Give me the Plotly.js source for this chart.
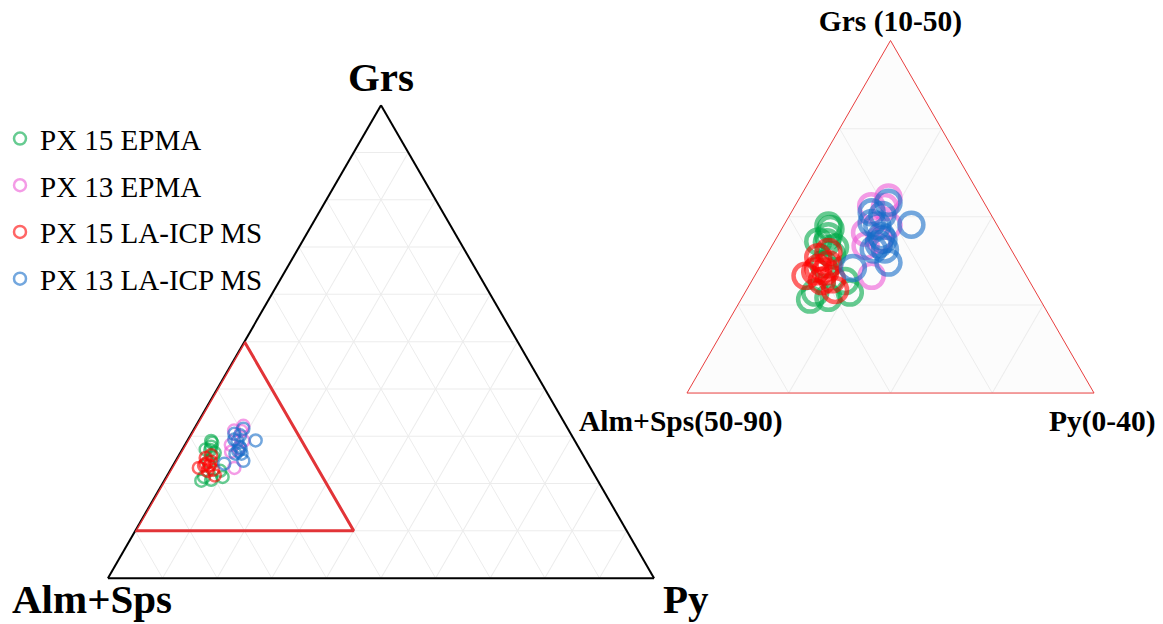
<!DOCTYPE html>
<html>
<head>
<meta charset="utf-8">
<script src="https://cdn.plot.ly/plotly-3.0.1.min.js"></script>
<style>
  html, body { margin: 0; padding: 0; background: #ffffff; }
  #chart { width: 1163px; height: 624px; }
</style>
</head>
<body>
<div id="chart"></div>
<script>
// Garnet end-member proportions (mol %): Grs, Alm+Sps, Py
const seriesNames = ['PX 15 EPMA', 'PX 13 EPMA', 'PX 15 LA-ICP MS', 'PX 13 LA-ICP MS'];

const grsPx15Epma = [28.6, 27.8, 27.1, 27.2, 26.5, 20.6, 20.8, 21.4, 22.7, 21.4, 24.6, 25.7, 29.0];
const almPx15Epma = [66.6, 67.2, 67.7, 68.5, 67.2, 72.6, 70.7, 68.3, 68.1, 71.7, 69.3, 67.9, 66.6];
const pyPx15Epma  = [4.8, 5.0, 5.2, 4.3, 6.3, 6.8, 8.5, 10.3, 9.2, 6.9, 6.1, 6.4, 4.4];

const grsPx13Epma = [32.2, 31.2, 28.2, 29.0, 23.3, 26.7, 27.4, 31.1];
const almPx13Epma = [59.1, 61.3, 63.4, 60.7, 65.2, 64.1, 62.4, 60.0];
const pyPx13Epma  = [8.7, 7.5, 8.4, 10.3, 11.5, 9.2, 10.2, 8.9];

const grsPx15La = [25.4, 26.0, 23.3, 23.8, 23.8, 22.9, 21.7, 22.7, 24.6, 24.2];
const almPx15La = [69.4, 68.1, 71.7, 70.5, 69.5, 69.3, 69.6, 70.4, 68.8, 70.0];
const pyPx15La  = [5.2, 5.9, 5.0, 5.7, 6.7, 7.8, 8.7, 6.9, 6.6, 5.8];

const grsPx13La = [31.6, 30.5, 29.1, 29.0, 27.8, 26.9, 26.3, 24.8, 24.2, 29.3, 27.4, 26.3, 30.2];
const almPx13La = [59.4, 61.6, 58.4, 61.8, 62.0, 62.7, 62.4, 62.8, 66.6, 62.2, 62.0, 63.5, 60.7];
const pyPx13La  = [9.0, 7.9, 12.5, 9.2, 10.2, 10.4, 11.3, 12.4, 9.2, 8.5, 10.6, 10.2, 9.1];

// Outline of the enlarged window: Grs 10-50, Alm+Sps 50-90, Py 0-40
const zoomGrs = [50, 10, 10, 50];
const zoomAlm = [50, 90, 50, 50];
const zoomPy  = [0, 0, 40, 0];

const seriesColors = ['rgb(0,168,72)', 'rgb(236,90,214)', 'rgb(255,0,0)', 'rgb(22,108,200)'];

const seriesData = [
  [grsPx15Epma, almPx15Epma, pyPx15Epma],
  [grsPx13Epma, almPx13Epma, pyPx13Epma],
  [grsPx15La, almPx15La, pyPx15La],
  [grsPx13La, almPx13La, pyPx13La]
];

const SERIF = 'Liberation Serif, Times New Roman, serif';
const traces = [];

// Full diagram (left): enlarged-window outline first, then the analyses
traces.push({
  type: 'scatterternary', subplot: 'ternary', mode: 'lines',
  a: zoomGrs, b: zoomAlm, c: zoomPy,
  line: { color: 'rgb(226,52,56)', width: 3 },
  showlegend: false, hoverinfo: 'skip'
});

seriesData.forEach((d, i) => {
  traces.push({
    type: 'scatterternary', subplot: 'ternary', mode: 'markers',
    name: seriesNames[i], legendgroup: 'g' + i,
    a: d[0], b: d[1], c: d[2],
    marker: { symbol: 'circle-open', size: 12, color: seriesColors[i], opacity: 0.6, line: { width: 2.5 } }
  });
});

// Enlarged window (right)
seriesData.forEach((d, i) => {
  traces.push({
    type: 'scatterternary', subplot: 'ternary2', mode: 'markers',
    name: seriesNames[i], legendgroup: 'g' + i, showlegend: false,
    a: d[0], b: d[1], c: d[2],
    marker: { symbol: 'circle-open', size: 24, color: seriesColors[i], opacity: 0.6, line: { width: 4.5 } }
  });
});

function axis(opts) {
  return Object.assign({
    dtick: 10, tick0: 0, showticklabels: false, ticks: '',
    gridcolor: 'rgb(236,236,236)', gridwidth: 1,
    showline: true, linecolor: 'black', linewidth: 2,
    title: { text: '' }
  }, opts);
}

function cornerLabel(text, px, py, size, yanchor) {
  return {
    text: '<b>' + text + '</b>', xref: 'paper', yref: 'paper',
    x: px / 1163, y: 1 - py / 624, xanchor: 'center', yanchor: yanchor,
    showarrow: false, font: { family: SERIF, size: size, color: 'black' }
  };
}

const RED_EDGE = 'rgb(232,62,62)';

const layout = {
  width: 1163, height: 624,
  margin: { l: 0, r: 0, t: 0, b: 0 },
  paper_bgcolor: 'white',
  font: { family: SERIF, color: 'black' },
  showlegend: true,
  legend: {
    x: 0.0, y: 0.8186, xanchor: 'left', yanchor: 'top',
    font: { family: SERIF, size: 29, color: 'black' },
    tracegroupgap: 6, bgcolor: 'rgba(0,0,0,0)'
  },
  ternary: {
    domain: { x: [0.0928, 0.5624], y: [0.05, 0.855] },
    sum: 100, bgcolor: 'white',
    aaxis: axis({ title: { text: '<b>Grs</b>', font: { family: SERIF, size: 41, color: 'black' } }, layer: 'below traces' }),
    baxis: axis({}),
    caxis: axis({})
  },
  ternary2: {
    domain: { x: [0.5907, 0.9407], y: [0.3526, 0.9526] },
    sum: 100, bgcolor: 'rgb(252,252,252)',
    aaxis: axis({ min: 10, linecolor: RED_EDGE, linewidth: 1,
      title: { text: '<b>Grs (10-50)</b>', font: { family: SERIF, size: 29.5, color: 'black' } } }),
    baxis: axis({ min: 50, linecolor: RED_EDGE, linewidth: 1 }),
    caxis: axis({ min: 0, linecolor: RED_EDGE, linewidth: 1 })
  },
  annotations: [
    cornerLabel('Alm+Sps', 92, 624, 41, 'bottom'),
    cornerLabel('Py', 686, 624, 41, 'bottom'),
    cornerLabel('Alm+Sps(50-90)', 681, 421, 29.5, 'middle'),
    cornerLabel('Py(0-40)', 1102, 421, 29.5, 'middle')
  ]
};

Plotly.newPlot('chart', traces, layout, { displayModeBar: false, responsive: false });
</script>
</body>
</html>
